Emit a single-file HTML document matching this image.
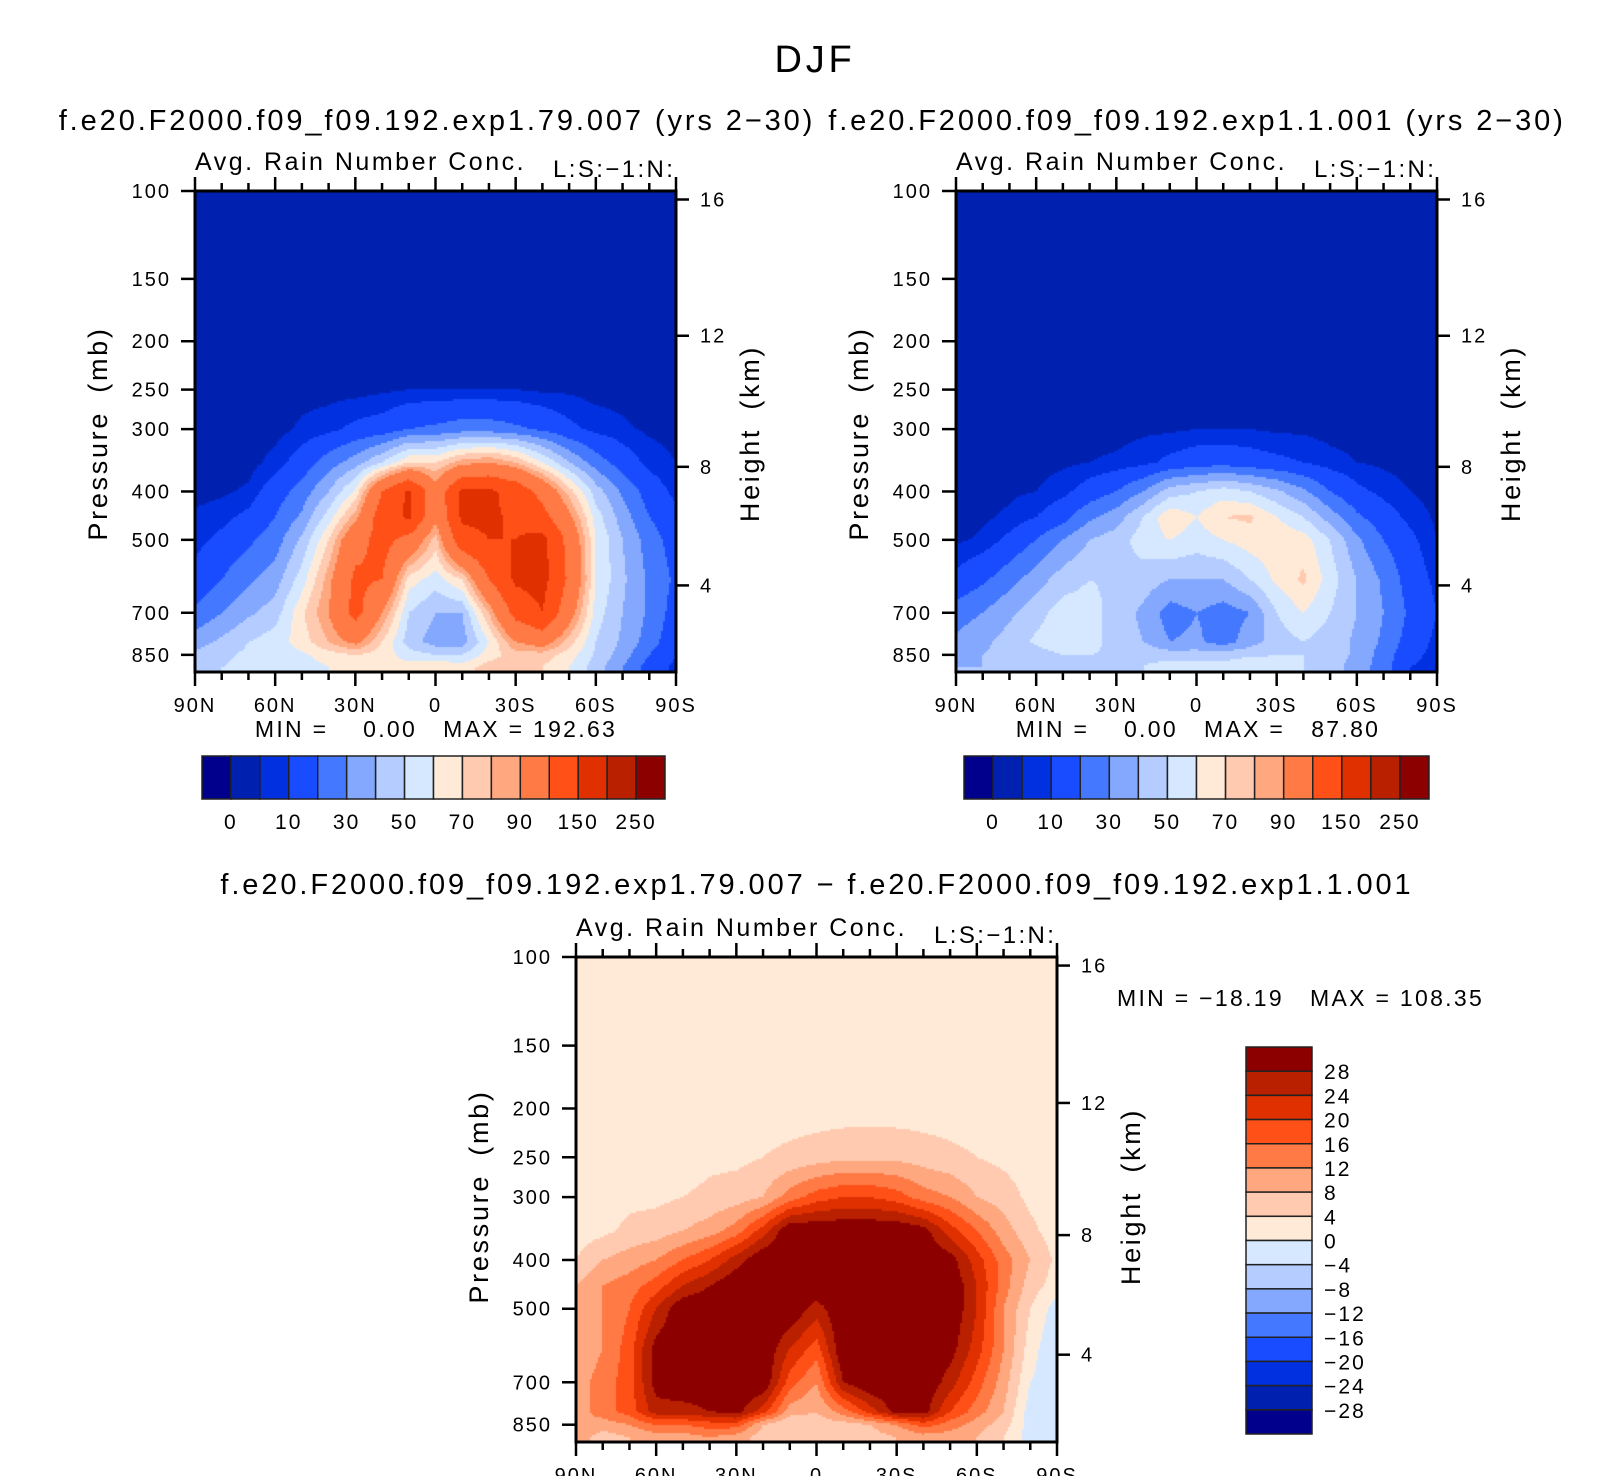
<!DOCTYPE html>
<html><head><meta charset="utf-8">
<style>
body{margin:0;background:#fff;}
#wrap{position:relative;width:1624px;height:1476px;overflow:hidden;background:#fff;}
canvas{position:absolute;}
svg{position:absolute;left:0;top:0;}
text{font-family:"Liberation Sans",sans-serif;fill:#000;}
</style></head>
<body>
<div id="wrap">
<canvas id="c1"></canvas>
<canvas id="c2"></canvas>
<canvas id="c3"></canvas>
<svg id="s" width="1624" height="1476"></svg>
</div>
<script>
// ---- data ----
const lats = [90,80,70,60,50,40,30,20,10,0,-10,-20,-30,-40,-50,-60,-70,-80,-90];
const pressures = [100,150,200,250,300,350,400,450,500,600,700,800,850,900];
const fieldA = [
[2,2,2,2,2,2,3,6,8,12,22,35,42,45],
[2,2,2,2,2,2,4,8,12,20,30,42,48,50],
[2,2,2,2,2,3,6,12,18,28,38,50,52,52],
[2,2,2,2,3,7,15,20,25,35,45,55,55,52],
[2,2,2,3,6,14,24,32,42,55,68,65,58,55],
[2,2,2,3,8,25,40,55,70,85,90,80,65,60],
[2,2,2,3,12,35,62,85,110,125,130,95,70,60],
[2,2,2,4,14,50,120,135,130,120,90,70,65,60],
[2,2,2,5,20,70,155,155,110,65,50,45,55,65],
[2,2,2,5,22,70,100,95,75,55,40,35,50,70],
[2,2,2,5,25,85,155,155,140,70,40,35,50,65],
[2,2,2,5,25,90,155,155,150,120,80,60,65,75],
[2,2,2,5,22,80,140,145,150,155,130,90,75,75],
[2,2,2,4,18,60,110,130,160,160,150,100,75,70],
[2,2,2,4,12,40,75,95,110,115,100,75,65,60],
[2,2,2,3,8,25,45,55,60,60,55,50,48,45],
[2,2,2,3,6,15,28,35,40,42,40,38,35,30],
[2,2,2,2,4,8,15,20,25,28,28,25,20,15],
[2,2,2,2,3,5,8,12,15,18,15,12,10,8]];
const fieldB = [
[2,2,2,2,2,2,2,3,4,12,25,32,38,40],
[2,2,2,2,2,2,3,4,6,18,30,38,40,40],
[2,2,2,2,2,2,4,6,12,26,38,44,42,40],
[2,2,2,2,2,3,5,10,20,35,46,52,45,42],
[2,2,2,2,3,4,8,16,30,45,55,58,50,45],
[2,2,2,2,3,5,14,28,40,50,55,55,50,45],
[2,2,2,2,3,6,20,35,45,48,45,45,48,45],
[2,2,2,2,4,8,30,50,55,45,38,40,48,50],
[2,2,2,3,4,12,45,68,60,40,25,30,45,55],
[2,2,2,3,5,15,50,60,55,40,30,32,45,55],
[2,2,2,3,5,16,55,70,60,40,25,25,45,55],
[2,2,2,3,5,14,50,72,65,50,30,35,48,60],
[2,2,2,3,4,12,42,60,68,62,50,45,50,55],
[2,2,2,2,4,10,32,50,65,72,60,50,50,50],
[2,2,2,2,3,7,20,35,50,55,50,45,45,45],
[2,2,2,2,3,5,12,22,32,40,40,38,38,35],
[2,2,2,2,2,4,8,14,20,28,30,28,25,25],
[2,2,2,2,2,3,5,8,12,15,18,15,12,10],
[2,2,2,2,2,2,3,4,5,8,10,8,8,8]];
const fieldD = [
[2,2,2,2,2,2,4,8,10,8,10,10,12,10],
[2,2,2,2,2,3,8,12,12,12,14,14,10,6],
[2,2,2,2,3,5,10,14,16,18,18,18,12,8],
[2,2,2,2,3,6,12,18,24,30,30,26,16,10],
[2,2,2,2,4,8,16,24,32,32,32,26,16,10],
[2,2,2,3,5,10,20,28,32,32,32,28,18,12],
[2,2,2,3,6,14,26,32,32,32,32,30,18,10],
[2,2,2,4,8,22,32,32,32,32,32,22,8,6],
[2,2,2,5,14,32,32,32,32,24,18,10,4,4],
[2,2,2,6,18,32,32,32,26,18,12,8,6,6],
[2,2,2,7,20,32,32,32,32,32,28,14,6,4],
[2,2,2,7,20,32,32,32,32,32,32,22,8,6],
[2,2,2,7,18,32,32,32,32,32,32,30,12,8],
[2,2,2,6,14,30,32,32,32,32,32,30,18,10],
[2,2,2,5,12,22,30,32,32,30,26,20,14,10],
[2,2,2,4,8,16,22,24,24,22,18,14,10,8],
[2,2,2,3,6,10,14,14,12,12,10,8,6,4],
[2,2,2,2,3,5,8,6,4,2,0,-2,-2,-2],
[2,2,2,2,2,2,3,2,-2,-4,-3,-2,-2,0]];
const levelsAbs = [0,5,10,20,30,40,50,60,70,80,90,120,150,200,250];
const levelsDiff = [-28,-24,-20,-16,-12,-8,-4,0,4,8,12,16,20,24,28];
const absLabels = ["0","10","30","50","70","90","150","250"];
const diffLabels = ["28","24","20","16","12","8","4","0","\u22124","\u22128","\u221212","\u221216","\u221220","\u221224","\u221228"];
const pTicks = [100,150,200,250,300,400,500,700,850];
const zTicks = [16,12,8,4];
const zTickP = [104,195,357,617];
const latTicks = [90,60,30,0,-30,-60,-90];
const latTickLabels = ["90N","60N","30N","0","30S","60S","90S"];
const colors = ["#00008c","#0020b0","#0030e0","#1a4cff","#4478ff","#85a8ff","#b4ccff","#d5e8ff","#ffead8","#ffcab0","#ffa880","#ff7a45","#ff5018","#e03000","#b82000","#8c0000"];

const PBOT = 920;
const NS = "http://www.w3.org/2000/svg";
const svg = document.getElementById('s');
function mk(tag, attrs, parent){const e=document.createElementNS(NS,tag);for(const k in attrs)e.setAttribute(k,attrs[k]);(parent||svg).appendChild(e);return e;}
function txt(x,y,s,size,anchor,name,extra){const t=mk('text',Object.assign({x:x,y:y,'font-size':size,'text-anchor':anchor||'start','letter-spacing':(size*0.1).toFixed(1)},extra||{}));t.textContent=s;return t;}
function colorIdx(v,lev){let i=0;while(i<lev.length&&v>=lev[i])i++;return i;}

function plot(cfg){
  const {x0,x1,y0,y1,field,lev,canvasId,prefix}=cfg;
  const W=x1-x0,H=y1-y0;
  const dec=Math.log10(PBOT)-2;
  const yOfP=p=>y0+(Math.log10(p)-2)/dec*H;
  const xOfLat=l=>x0+(90-l)/180*W;
  const cv=document.getElementById(canvasId);
  cv.width=W;cv.height=H;cv.style.left=x0+'px';cv.style.top=y0+'px';
  const ctx=cv.getContext('2d');
  const lp=pressures.map(p=>Math.log10(p));
  for(let py=0;py<H;py+=2){
    const L=2+(py+1)/H*dec;
    let r=0;while(r<lp.length-2&&L>lp[r+1])r++;
    let fr=(L-lp[r])/(lp[r+1]-lp[r]);fr=Math.max(0,Math.min(1,fr));
    for(let px=0;px<W;px+=2){
      const lat=90-(px+1)/W*180;
      let cf=(90-lat)/10;let c=Math.min(Math.floor(cf),lats.length-2);const fc=cf-c;
      const v=(field[c][r]*(1-fc)+field[c+1][r]*fc)*(1-fr)+(field[c][r+1]*(1-fc)+field[c+1][r+1]*fc)*fr;
      ctx.fillStyle=colors[colorIdx(v,lev)];
      ctx.fillRect(px,py,2,2);
    }
  }
  const g=mk('g',{});
  mk('rect',{x:x0,y:y0,width:W,height:H,fill:'none',stroke:'#000','stroke-width':3},g);
  pTicks.forEach(p=>{const y=yOfP(p);mk('line',{x1:x0-14,x2:x0,y1:y,y2:y,stroke:'#000','stroke-width':2.5},g);
    txt(x0-24,y+7,String(p),20,'end',prefix+'-pressure-tick-label');});
  zTicks.forEach((z,i)=>{const y=yOfP(zTickP[i]);mk('line',{x1:x1,x2:x1+13,y1:y,y2:y,stroke:'#000','stroke-width':2.5},g);
    txt(x1+24,y+7,String(z),20,'start',prefix+'-height-tick-label');});
  for(let l=90;l>=-90;l-=10){const x=xOfLat(l);const major=(l%30===0);const len=major?14:8;
    mk('line',{x1:x,x2:x,y1:y1,y2:y1+len,stroke:'#000','stroke-width':2.5},g);
    mk('line',{x1:x,x2:x,y1:y0,y2:y0-len,stroke:'#000','stroke-width':2.5},g);}
  latTicks.forEach((l,i)=>txt(xOfLat(l),y1+40,latTickLabels[i],20,'middle',prefix+'-lat-tick-label'));
  txt(x0,y0-21,'Avg. Rain Number Conc.',25,'start',prefix+'-subtitle');
  txt(x0+358,y0-14,'L:S:\u22121:N:',24,'start',prefix+'-level-label');
  const yc=(y0+y1)/2+(cfg.ycOff||0);
  txt(0,0,'Pressure (mb)',27,'middle',prefix+'-y-axis-title',{transform:`translate(${x0-88},${yc}) rotate(-90)`,'word-spacing':'8'});
  txt(0,0,'Height (km)',27,'middle',prefix+'-right-axis-title',{transform:`translate(${x1+83},${yc}) rotate(-90)`,'word-spacing':'8'});
}

function hbar(x0,x1,y0,y1,prefix){
  const w=(x1-x0)/colors.length;
  colors.forEach((c,i)=>{const r=mk('rect',{x:x0+i*w,y:y0,width:w,height:y1-y0,fill:c,stroke:'#222','stroke-width':1.5});
    });
  absLabels.forEach((s,i)=>txt(x0+(2*i+1)*w,y1+30,s,21,'middle',prefix+'-colorbar-label'));
}

plot({x0:195,x1:676,y0:191,y1:672,field:fieldA,lev:levelsAbs,canvasId:'c1',prefix:'left',ycOff:2});
plot({x0:956,x1:1437,y0:191,y1:672,field:fieldB,lev:levelsAbs,canvasId:'c2',prefix:'right',ycOff:2});
plot({x0:576,x1:1057,y0:957,y1:1442,field:fieldD,lev:levelsDiff,canvasId:'c3',prefix:'diff',ycOff:-3});
hbar(202,665,756,799,'left');
hbar(964,1429,756,799,'right');

(function(){const x0=1246,x1=1312,y0=1047,y1=1434;const h=(y1-y0)/colors.length;
  for(let i=0;i<colors.length;i++){const r=mk('rect',{x:x0,y:y0+i*h,width:x1-x0,height:h,fill:colors[colors.length-1-i],stroke:'#222','stroke-width':1.5});
    }
  diffLabels.forEach((s,i)=>txt(x1+12,y0+(i+1)*h+8,s,21,'start','diff-colorbar-label'));
})();

txt(815,72,'DJF',38,'middle','figure-title');
txt(437,130,'f.e20.F2000.f09_f09.192.exp1.79.007 (yrs 2\u221230)',29,'middle','left-panel-title');
txt(1197,130,'f.e20.F2000.f09_f09.192.exp1.1.001 (yrs 2\u221230)',29,'middle','right-panel-title');
txt(817,894,'f.e20.F2000.f09_f09.192.exp1.79.007 \u2212 f.e20.F2000.f09_f09.192.exp1.1.001',29,'middle','difference-panel-title');
txt(436,737,'MIN =    0.00   MAX = 192.63',23,'middle','left-min-max',{'xml:space':'preserve',style:'white-space:pre'});
txt(1198,737,'MIN =    0.00   MAX =   87.80',23,'middle','right-min-max',{'xml:space':'preserve',style:'white-space:pre'});
txt(1117,1006,'MIN = \u221218.19   MAX = 108.35',23,'start','diff-min-max',{'xml:space':'preserve',style:'white-space:pre'});
</script>
</body></html>
